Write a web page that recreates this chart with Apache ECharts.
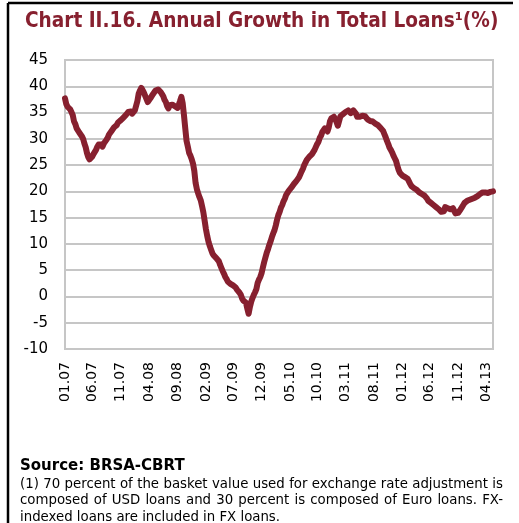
<!DOCTYPE html>
<html>
<head>
<meta charset="utf-8">
<script src="https://cdn.jsdelivr.net/npm/echarts@6/dist/echarts.min.js"></script>
<style>
  html, body { margin: 0; padding: 0; background: #fff; }
  #chart { width: 519px; height: 523px; }
</style>
</head>
<body>
<div id="chart"></div>
<script>
// Weekly annual growth in total loans (%), first week of Jan 2007 to mid-May 2013
const firstWeek = [2007, 0, 5];
const loanGrowth = [
  37.7, 36.6, 36.1, 35.8, 35.6, 35.1, 34.5, 33.3, 32.8, 32.0, 31.7, 31.2, 31.0, 30.5, 30.0, 29.1, 28.4, 27.3, 26.5, 26.1,
  26.4, 26.6, 27.1, 27.3, 27.9, 28.5, 28.9, 28.6, 28.9, 28.5, 29.1, 29.4, 29.8, 30.2, 30.8, 31.0, 31.5, 31.5, 32.2, 32.4,
  32.6, 33.1, 33.1, 33.5, 33.5, 34.0, 34.0, 34.5, 34.5, 35.1, 35.3, 35.2, 34.8, 35.1, 35.4, 36.3, 37.2, 38.6, 39.2, 39.7,
  39.3, 38.8, 38.5, 37.6, 37.0, 37.2, 37.7, 38.0, 38.5, 38.8, 39.2, 39.2, 39.4, 39.1, 38.9, 38.5, 38.1, 37.4, 37.0, 36.2,
  35.8, 36.4, 36.7, 36.5, 36.6, 36.2, 36.3, 35.9, 36.5, 37.2, 38.0, 36.8, 34.5, 32.0, 29.6, 28.5, 27.3, 26.8, 26.1, 25.3,
  23.9, 21.6, 20.4, 19.6, 18.9, 18.3, 17.2, 16.0, 14.4, 12.8, 11.5, 10.4, 9.6, 8.9, 8.2, 7.8, 7.6, 7.3, 7.1, 6.7,
  6.0, 5.4, 4.8, 4.3, 3.7, 3.3, 2.8, 2.5, 2.4, 2.1, 2.1, 1.8, 1.7, 1.3, 1.1, 0.7, 0.3, -0.4, -0.8, -1.0,
  -1.2, -2.3, -3.3, -2.0, -1.0, -0.3, 0.3, 0.8, 1.4, 2.6, 3.2, 3.7, 4.4, 5.5, 6.5, 7.4, 8.3, 9.0, 9.8, 10.5,
  11.3, 12.0, 12.6, 13.5, 14.6, 15.5, 16.1, 16.9, 17.4, 18.1, 18.6, 19.3, 19.5, 20.1, 20.3, 20.7, 20.9, 21.4, 21.5, 22.0,
  22.2, 22.7, 23.0, 23.8, 24.3, 25.0, 25.3, 26.0, 26.2, 26.6, 26.7, 27.1, 27.2, 27.9, 28.2, 29.0, 29.4, 30.2, 30.6, 31.3,
  31.5, 32.0, 32.2, 31.4, 32.2, 33.4, 33.9, 34.0, 34.2, 33.9, 33.2, 32.5, 33.4, 34.3, 34.6, 34.7, 34.9, 35.1, 35.4, 35.4,
  35.1, 34.9, 35.1, 35.4, 35.4, 34.8, 34.2, 34.0, 34.2, 34.3, 34.4, 34.5, 34.3, 34.0, 33.7, 33.5, 33.4, 33.3, 33.3, 33.1,
  32.9, 32.8, 32.6, 32.3, 32.1, 31.9, 31.5, 30.9, 30.3, 29.6, 29.0, 28.3, 27.9, 27.4, 26.8, 26.3, 25.8, 24.9, 24.1, 23.5,
  23.3, 23.0, 22.9, 22.7, 22.6, 22.4, 21.9, 21.4, 21.0, 20.8, 20.6, 20.4, 20.3, 20.0, 19.8, 19.6, 19.5, 19.3, 19.2, 19.0,
  18.6, 18.2, 17.9, 17.8, 17.6, 17.4, 17.3, 17.0, 16.8, 16.6, 16.4, 16.1, 15.9, 16.2, 17.0, 17.0, 16.8, 16.5, 16.6, 16.7,
  16.8, 16.6, 15.8, 15.7, 15.9, 16.2, 16.6, 17.0, 17.4, 17.8, 18.0, 18.2, 18.3, 18.4, 18.5, 18.6, 18.7, 18.8, 19.0, 19.1,
  19.3, 19.5, 19.6, 19.8, 20.0, 19.8, 19.6, 19.7, 19.8, 19.9, 20.0, 20.0
];
// Month labels on the horizontal axis (mm.yy), every five months
const tickLabels = ['01.07', '06.07', '11.07', '04.08', '09.08', '02.09', '07.09', '12.09',
  '05.10', '10.10', '03.11', '08.11', '01.12', '06.12', '11.12', '04.13'];
const yTicks = { min: -10, max: 45, step: 5 };

const titleText = 'Chart II.16. Annual Growth in Total Loans\u00b9(%)';
const sourceText = 'Source: BRSA-CBRT';
const noteLines = [
  '(1) 70 percent of the basket value used for exchange rate adjustment is',
  'composed of USD loans and 30 percent is composed of Euro loans. FX-',
  'indexed loans are included in FX loans.'
];

// Week-ending dates as dd.mm.yy category strings
const pad = n => String(n).padStart(2, '0');
const weeks = loanGrowth.map((_, i) => {
  const d = new Date(Date.UTC(firstWeek[0], firstWeek[1], firstWeek[2] + 7 * i));
  return pad(d.getUTCDate()) + '.' + pad(d.getUTCMonth() + 1) + '.' + pad(d.getUTCFullYear() % 100);
});
// A month label sits on the first week of its month
const labelIdx = new Set();
weeks.forEach((w, i) => {
  const day = +w.slice(0, 2);
  if (day <= 7 && tickLabels.includes(w.slice(3))) labelIdx.add(i);
});

const COND = '"DejaVu Sans Condensed", Tahoma, "DejaVu Sans", sans-serif';
const SANS = '"DejaVu Sans", Verdana, sans-serif';
const RED = '#87202f';
const GRID = '#c6c6c6';
const NOTE_FONT = '14.8px ' + COND;

// Footnote text: full lines are justified between x0 and x1, word by word
const measureCtx = document.createElement('canvas').getContext('2d');
function noteLine(text, x0, x1, y, justify) {
  if (!justify) {
    return [{ type: 'text', x: x0, y: y, style: { text: text, font: NOTE_FONT, fill: '#000', verticalAlign: 'middle' } }];
  }
  measureCtx.font = NOTE_FONT;
  const words = text.split(' ');
  const widths = words.map(w => measureCtx.measureText(w).width);
  const total = widths.reduce((a, b) => a + b, 0);
  const gap = (x1 - x0 - total) / (words.length - 1);
  const out = [];
  let x = x0;
  words.forEach((w, i) => {
    out.push({ type: 'text', x: x, y: y, style: { text: w, font: NOTE_FONT, fill: '#000', verticalAlign: 'middle' } });
    x += widths[i] + gap;
  });
  return out;
}

const chart = echarts.init(document.getElementById('chart'), null, { renderer: 'canvas' });
chart.setOption({
  animation: false,
  backgroundColor: '#fff',
  grid: { left: 65, right: 26, top: 60, bottom: 174, show: true, borderColor: GRID, borderWidth: 2 },
  xAxis: {
    type: 'category',
    data: weeks,
    boundaryGap: false,
    axisLine: { show: false },
    axisTick: { show: false },
    axisLabel: {
      interval: (i) => labelIdx.has(i),
      formatter: v => v.slice(3),
      rotate: 90,
      margin: 13,
      fontFamily: SANS,
      fontSize: 14,
      color: '#000'
    },
    splitLine: { show: false }
  },
  yAxis: {
    type: 'value',
    min: yTicks.min,
    max: yTicks.max,
    interval: yTicks.step,
    axisLine: { show: false },
    axisTick: { show: false },
    axisLabel: { margin: 17, fontFamily: SANS, fontSize: 15, color: '#000' },
    splitLine: { lineStyle: { color: GRID, width: 2 } }
  },
  series: [{
    type: 'line',
    data: loanGrowth,
    showSymbol: false,
    lineStyle: { color: RED, width: 6, join: 'round', cap: 'round' }
  }],
  graphic: [
    { type: 'line', shape: { x1: 8, y1: 3, x2: 513, y2: 3 }, style: { stroke: '#000', lineWidth: 2.5 } },
    { type: 'line', shape: { x1: 8, y1: 3, x2: 8, y2: 523 }, style: { stroke: '#000', lineWidth: 2.5 } },
    { type: 'text', x: 25, y: 22, style: { text: titleText, font: 'bold 20.6px ' + COND, fill: RED, verticalAlign: 'middle' } },
    { type: 'text', x: 20, y: 466, style: { text: sourceText, font: 'bold 15px ' + SANS, fill: '#000', verticalAlign: 'middle' } }
  ].concat(
    noteLine(noteLines[0], 20, 503, 484, true),
    noteLine(noteLines[1], 20, 503, 500.5, true),
    noteLine(noteLines[2], 20, 503, 517, false)
  )
});
</script>
</body>
</html>
